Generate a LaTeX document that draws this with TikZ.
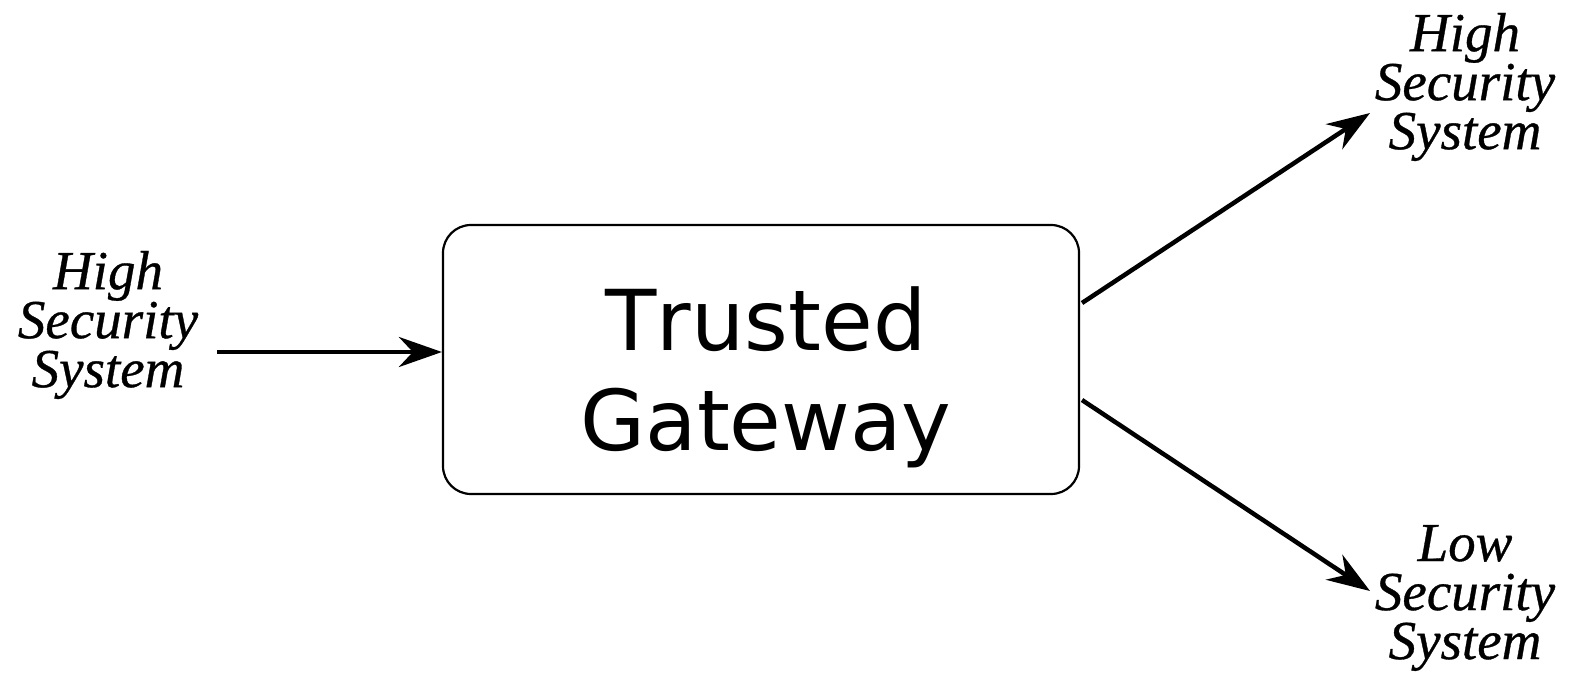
\documentclass[tikz,border=0pt]{standalone}
\usepackage{fontspec}
\usetikzlibrary{arrows.meta}
\newfontfamily\gwfont{DejaVu Sans}[Kerning=Off]
\newfontfamily\sysfont{Liberation Serif}[UprightFont=* Italic, FakeBold=0.6]
\tikzset{
  sysbox/.style={inner sep=0pt, align=center, font=\sysfont\fontsize{55}{49}\selectfont},
  gatebox/.style={draw, line width=2.2pt, rounded corners=28pt, minimum width=636pt, minimum height=269pt, inner sep=0pt},
  gatetext/.style={inner sep=0pt, align=center, font=\gwfont\fontsize{84}{100}\selectfont},
  flow/.style={line width=4.5pt, -{Stealth[length=43pt, width=30pt, inset=14pt]}}
}
\begin{document}
\begin{tikzpicture}[x=1pt, y=-1pt]
  \useasboundingbox (0,0) rectangle (1571,677);
  % gateway
  \node[gatebox] (gw) at (761,359.5) {};
  \node[gatetext] (gwtext) at (766,377) {Trusted\\Gateway};
  % systems
  \node[sysbox] (hin)  at (108,325)  {High\\Security\\System};
  \node[sysbox] (hout) at (1465,87)  {High\\Security\\System};
  \node[sysbox] (lout) at (1465,598) {Low\\Security\\System};
  % connector ends
  \coordinate (inA)  at (217,352);
  \coordinate (upA)  at (1082,303);
  \coordinate (upB)  at (1370,113);
  \coordinate (dnA)  at (1082,400);
  \coordinate (dnB)  at (1370,591);
  \draw[flow] (inA) -- (gw.west |- inA);
  \draw[flow] (upA) -- (upB);
  \draw[flow] (dnA) -- (dnB);
\end{tikzpicture}
\end{document}
